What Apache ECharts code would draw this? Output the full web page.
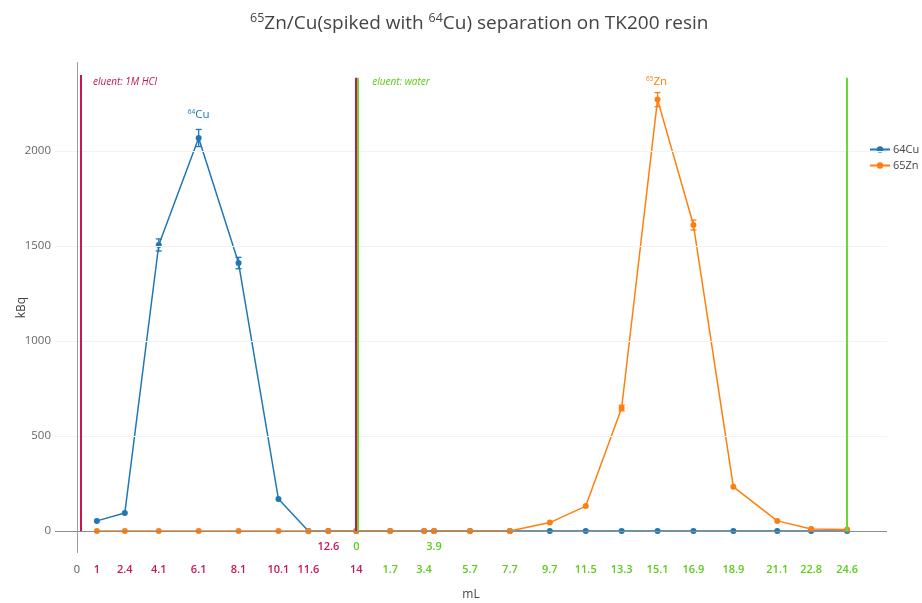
<!DOCTYPE html>
<html><head><meta charset="utf-8">
<script src="https://cdn.jsdelivr.net/npm/echarts@6/dist/echarts.min.js"></script>
<style>html,body{margin:0;padding:0;background:#fff}#c{width:922px;height:603px}</style>
</head><body><div id="c"></div>
<script>
// ---- data ----
const xVolume = [1, 2.4, 4.1, 6.1, 8.1, 10.1, 11.6, 12.6, 14, 15.7, 17.4, 17.9, 19.7, 21.7, 23.7, 25.5, 27.3, 29.1, 30.9, 32.9, 35.1, 36.8, 38.6];
const cu64 = [53, 95, 1505, 2068, 1410, 168, 0, 0, 0, 0, 0, 0, 0, 0, 0, 0, 0, 0, 0, 0, 0, 0, 0];
const zn65 = [0, 0, 0, 0, 0, 0, 0, 0, 0, 0, 0, 0, 0, 0, 44, 131, 647, 2270, 1610, 232, 53, 10, 8];
const cuErr = [0, 0, 32, 45, 30, 0, 0, 0, 0, 0, 0, 0, 0, 0, 0, 0, 0, 0, 0, 0, 0, 0, 0];
const znErr = [0, 0, 0, 0, 0, 0, 0, 0, 0, 0, 0, 0, 0, 0, 0, 0, 15, 37, 26, 0, 0, 0, 0];

const mainTickPos = [0, 1, 2.4, 4.1, 6.1, 8.1, 10.1, 11.6, 14, 15.7, 17.4, 19.7, 21.7, 23.7, 25.5, 27.3, 29.1, 30.9, 32.9, 35.1, 36.8, 38.6];
const mainTickText = ['0', '1', '2.4', '4.1', '6.1', '8.1', '10.1', '11.6', '14', '1.7', '3.4', '5.7', '7.7', '9.7', '11.5', '13.3', '15.1', '16.9', '18.9', '21.1', '22.8', '24.6'];
const mainTickGroup = ['k', 'r', 'r', 'r', 'r', 'r', 'r', 'r', 'r', 'g', 'g', 'g', 'g', 'g', 'g', 'g', 'g', 'g', 'g', 'g', 'g', 'g'];
const upperTickPos = [12.6, 14, 17.9];
const upperTickText = ['12.6', '0', '3.9'];
const upperTickGroup = ['r', 'g', 'g'];

const yTicks = [0, 500, 1000, 1500, 2000];

const eluentLines = [
  { x: 0.2, top: 2400, group: 'r' },
  { x: 13.95, top: 2385, group: 'r' },
  { x: 14.08, top: 2385, group: 'g' },
  { x: 38.58, top: 2385, group: 'g' }
];
const eluentText = [
  { x: 0.8, y: 2363, text: 'eluent: 1M HCl', group: 'r' },
  { x: 14.8, y: 2363, text: 'eluent: water', group: 'g' }
];

// ---- styles ----
const BLUE = '#1f77b4', ORANGE = '#ff7f0e';
const RED = '#c2185b', GREEN = '#5ccb1a';
const RED_LINE = '#c8174f', GREEN_LINE = '#6ad830';
const FONT = '"Open Sans", "Noto Sans", sans-serif';

function labelFmt(pos, txt, grp) {
  return function (v) {
    for (let i = 0; i < pos.length; i++) {
      if (Math.abs(pos[i] - v) < 1e-6) return '{' + grp[i] + '|' + txt[i] + '}';
    }
    return '';
  };
}
const tickRich = {
  k: { color: '#555', fontSize: 11, fontFamily: FONT },
  r: { color: RED, fontSize: 11, fontFamily: FONT, fontWeight: 600 },
  g: { color: GREEN, fontSize: 11, fontFamily: FONT, fontWeight: 600 }
};

function errData(vals, errs) {
  const out = [];
  for (let i = 0; i < xVolume.length; i++) {
    if (errs[i] > 0) out.push([xVolume[i], vals[i] - errs[i], vals[i] + errs[i]]);
  }
  return out;
}
function errSeries(vals, errs, color) {
  return {
    type: 'custom',
    silent: true,
    z: 3,
    renderItem: function (params, api) {
      const x = api.value(0);
      const p1 = api.coord([x, api.value(1)]);
      const p2 = api.coord([x, api.value(2)]);
      const w = 3;
      const st = { stroke: color, lineWidth: 1.3 };
      return {
        type: 'group', children: [
          { type: 'line', shape: { x1: p1[0], y1: p1[1], x2: p2[0], y2: p2[1] }, style: st },
          { type: 'line', shape: { x1: p1[0] - w, y1: p1[1], x2: p1[0] + w, y2: p1[1] }, style: st },
          { type: 'line', shape: { x1: p2[0] - w, y1: p2[1], x2: p2[0] + w, y2: p2[1] }, style: st }
        ]
      };
    },
    encode: { x: 0, y: [1, 2] },
    data: errData(vals, errs)
  };
}

const chart = echarts.init(document.getElementById('c'));
chart.setOption({
  animation: false,
  backgroundColor: '#fff',
  title: {
    text: '{s|65}Zn/Cu(spiked with {s|64}Cu) separation on TK200 resin',
    left: 245, top: 7,
    textStyle: {
      fontFamily: FONT, fontSize: 19, fontWeight: 'normal', color: '#444',
      rich: { s: { fontSize: 12.5, fontFamily: FONT, color: '#444', padding: [0, 0, 10, 0] } }
    }
  },
  legend: {
    data: ['64Cu', '65Zn'],
    orient: 'vertical', left: 864, top: 139, itemGap: 5,
    itemWidth: 20, itemHeight: 8,
    textStyle: { fontFamily: FONT, fontSize: 11, color: '#444', padding: [0, 0, 0, -2] }
  },
  grid: { left: 55, right: 35, top: 62, bottom: 50, outerBoundsMode: 'none' },
  xAxis: [{
    type: 'value', min: -1.1, max: 40.6,
    name: 'mL', nameLocation: 'middle', nameGap: 36, nameMoveOverlap: false,
    nameTextStyle: { fontFamily: FONT, fontSize: 12, color: '#444' },
    axisLine: { show: false, onZero: false },
    axisTick: { show: false },
    splitLine: { show: false },
    axisLabel: {
      customValues: mainTickPos, margin: 11, hideOverlap: false,
      formatter: labelFmt(mainTickPos, mainTickText, mainTickGroup), rich: tickRich
    }
  }, {
    type: 'value', min: -1.1, max: 40.6, position: 'bottom',
    axisLine: { show: false, onZero: false },
    axisTick: { show: false },
    splitLine: { show: false },
    axisLabel: {
      inside: true, margin: 1, customValues: upperTickPos, hideOverlap: false,
      formatter: labelFmt(upperTickPos, upperTickText, upperTickGroup), rich: tickRich
    }
  }],
  yAxis: {
    type: 'value', min: -116, max: 2468,
    name: 'kBq', nameLocation: 'middle', nameGap: 27, nameMoveOverlap: false,
    nameTextStyle: { fontFamily: FONT, fontSize: 12, color: '#444' },
    axisLine: { show: false }, axisTick: { show: false },
    splitLine: { show: false },
    axisLabel: {
      customValues: yTicks, margin: 4, color: '#666', fontSize: 11.5, fontFamily: FONT,
      formatter: v => String(v)
    }
  },
  series: [
    {
      name: '64Cu', type: 'line', xAxisIndex: 0,
      data: xVolume.map((x, i) => [x, cu64[i]]),
      symbol: 'circle', symbolSize: 6,
      itemStyle: { color: BLUE }, lineStyle: { color: BLUE, width: 1.5 },
      z: 2,
      markLine: {
        silent: true, symbol: 'none', label: { show: false }, animation: false,
        data: yTicks.filter(v => v !== 0).map(v => ({ yAxis: v, lineStyle: { color: '#f2f2f2', width: 1, type: 'solid' } }))
          .concat([
            { yAxis: 0, lineStyle: { color: '#8c8c8c', width: 1, type: 'solid' } },
            { xAxis: 0, lineStyle: { color: '#9a9a9a', width: 1, type: 'solid' } }
          ])
          .concat(eluentLines.map(l => [
            { coord: [l.x, 0], lineStyle: { color: l.group === 'r' ? RED_LINE : GREEN_LINE, width: 2, type: 'solid' } },
            { coord: [l.x, l.top] }
          ]))
      },
      markPoint: {
        silent: true, symbol: 'circle', symbolSize: 0,
        data: [{
          coord: [6.1, 2189],
          label: {
            show: true, position: 'inside', formatter: '{s|64}{t|Cu}',
            rich: { s: { fontSize: 6.5, color: BLUE, fontFamily: FONT, padding: [0, 0, 5, 0] }, t: { fontSize: 11.5, color: BLUE, fontFamily: FONT } }
          }
        }].concat(eluentText.map(t => ({
          coord: [t.x, t.y],
          label: {
            show: true, position: 'right', distance: 0, formatter: t.text,
            fontStyle: 'italic', fontSize: 10, fontFamily: FONT,
            color: t.group === 'r' ? RED : GREEN
          }
        })))
      }
    },
    {
      name: '65Zn', type: 'line', xAxisIndex: 0,
      data: xVolume.map((x, i) => [x, zn65[i]]),
      symbol: 'circle', symbolSize: 6,
      itemStyle: { color: ORANGE }, lineStyle: { color: ORANGE, width: 1.5 },
      z: 4,
      markPoint: {
        silent: true, symbol: 'circle', symbolSize: 0,
        data: [{
          coord: [29.05, 2363],
          label: {
            show: true, position: 'inside', formatter: '{s|65}{t|Zn}',
            rich: { s: { fontSize: 6.5, color: ORANGE, fontFamily: FONT, padding: [0, 0, 5, 0] }, t: { fontSize: 11.5, color: ORANGE, fontFamily: FONT } }
          }
        }]
      }
    },
    errSeries(cu64, cuErr, BLUE),
    errSeries(zn65, znErr, ORANGE)
  ]
});
</script>
</body></html>
